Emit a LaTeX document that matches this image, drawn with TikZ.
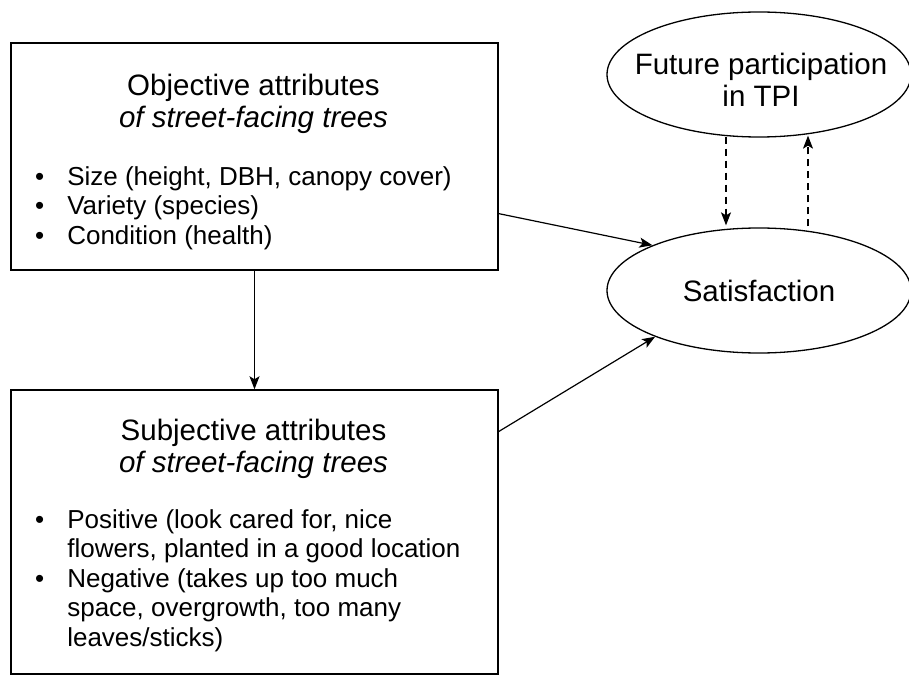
\documentclass[tikz,border=0pt]{standalone}
\usepackage{fontspec}
\setmainfont{Liberation Sans}
\usetikzlibrary{arrows.meta,shapes.geometric,calc}

\tikzset{
  attrbox/.style={draw,line width=1.5pt,minimum width=487pt,minimum height=#1,inner sep=0pt},
  latent/.style={draw,ellipse,line width=1.3pt,minimum width=304pt,minimum height=125pt,
    inner sep=0pt,align=center,font=\fontsize{29.5}{32}\selectfont},
  heading/.style={inner sep=0pt,align=center,font=\fontsize{29.5}{32}\selectfont},
  itemlist/.style={inner sep=0pt,anchor=north west,font=\fontsize{26}{29.5}\selectfont},
  link/.style={line width=1.2pt,-{Stealth[length=13pt,width=10pt,inset=3pt]}},
  feedback/.style={link,dashed,dash pattern=on 7pt off 5pt}
}

\begin{document}
\begin{tikzpicture}[x=1pt,y=-1pt]
  \useasboundingbox (0,0) rectangle (909,676);
  \fill[white] (0,0) rectangle (909,676);

  % boxes and ellipses
  \node[attrbox=227pt] (obj) at (254.5,156.5) {};
  \node[attrbox=284pt] (subj) at (254.5,532) {};
  \node[latent] (fut) at (759,74.5) {};
  \node[latent] (sat) at (759,290.5) {Satisfaction};
  \node[heading] (futtext) at ($(fut.center)+(2,5)$) {Future participation\\in TPI};

  % box texts
  \node[heading,anchor=north] (objhead) at (253.5,73.5) {Objective attributes\\\textit{of street-facing trees}};
  \node[itemlist] (objlist) at (35,164.4) {%
    \begin{tabular}{@{}l@{\hspace{23pt}}l@{}}
      \textbullet & Size (height, DBH, canopy cover)\\
      \textbullet & Variety (species)\\
      \textbullet & Condition (health)
    \end{tabular}};
  \node[heading,anchor=north] (subjhead) at (253.5,418.5) {Subjective attributes\\\textit{of street-facing trees}};
  \node[itemlist] (subjlist) at (35,507.4) {%
    \begin{tabular}{@{}l@{\hspace{23pt}}l@{}}
      \textbullet & Positive (look cared for, nice\\
                  & flowers, planted in a good location\\
      \textbullet & Negative (takes up too much\\
                  & space, overgrowth, too many\\
                  & leaves/sticks)
    \end{tabular}};

  % connectors
  \draw[link] (obj.south) -- (subj.north);
  \draw[link] ($(obj.north east)!0.75!(obj.south east)$) -- (sat.157);
  \draw[link] ($(subj.north east)!0.148!(subj.south east)$) -- (sat.204);
  \draw[feedback] ($(fut.south)+(-33,-1)$) -- ($(sat.north)+(-33,-2)$);
  \draw[feedback] ($(sat.north)+(49,-1)$) -- ($(fut.south)+(49,-2)$);
\end{tikzpicture}
\end{document}
